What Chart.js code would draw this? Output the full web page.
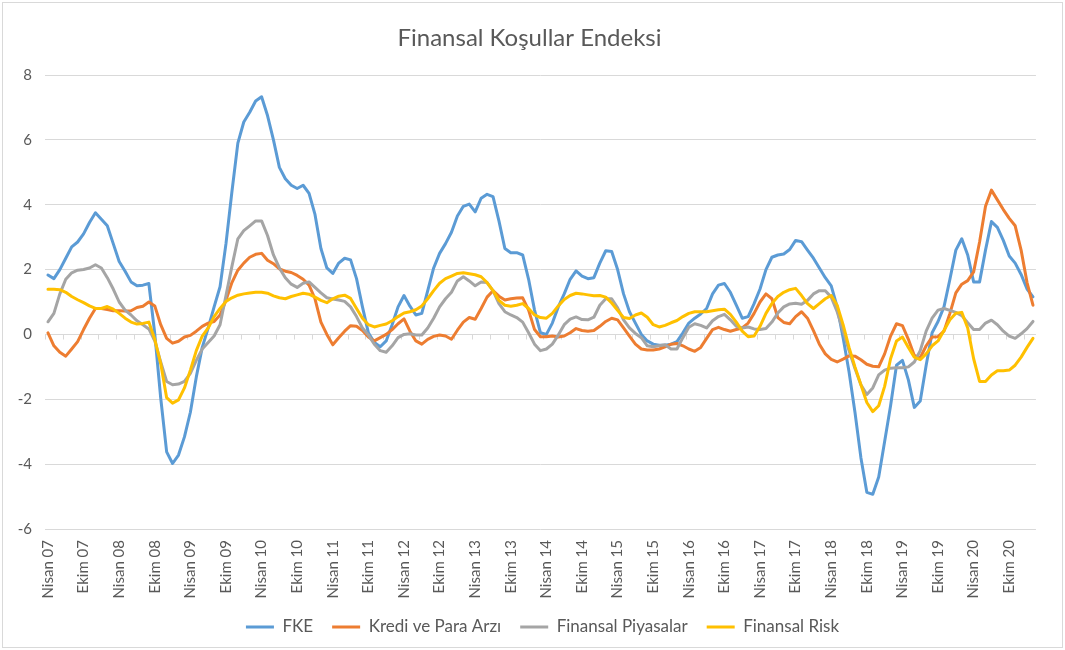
<!DOCTYPE html>
<html><head><meta charset="utf-8">
<script src="https://cdn.jsdelivr.net/npm/chart.js@4.4.1/dist/chart.umd.min.js"></script>
<style>
html,body{margin:0;padding:0;background:#fff;}
#wrap{position:absolute;left:2px;top:2px;width:1059px;height:644px;border:1px solid #d9d9d9;background:#fff;}
canvas{display:block;}
</style></head><body>
<div id="wrap"><canvas id="c" width="1059" height="644"></canvas></div>
<script>
const monthNames = ["Ocak","Şubat","Mart","Nisan","Mayıs","Haziran","Temmuz","Ağustos","Eylül","Ekim","Kasım","Aralık"];
const startYear = 2007, startMonth = 3, monthCount = 167;
const categories = [];
for (let i = 0; i < monthCount; i++) {
  const m = (startMonth + i) % 12, y = startYear + Math.floor((startMonth + i) / 12);
  categories.push(monthNames[m] + " " + String(y % 100).padStart(2, "0"));
}
const yTicks = [8, 6, 4, 2, 0, -2, -4, -6];

const fke = [
1.83,1.72,2.0,2.35,2.7,2.85,3.1,3.45,3.75,3.55,
3.35,2.8,2.25,1.95,1.62,1.5,1.52,1.57,0.02,-1.96,
-3.62,-3.98,-3.72,-3.16,-2.4,-1.31,-0.4,0.2,0.85,1.47,
2.8,4.4,5.9,6.55,6.85,7.2,7.33,6.75,6.0,5.15,
4.8,4.6,4.5,4.6,4.35,3.7,2.65,2.05,1.88,2.2,
2.35,2.3,1.72,0.85,0.05,-0.25,-0.38,-0.2,0.3,0.85,
1.2,0.87,0.6,0.65,1.35,2.05,2.5,2.8,3.15,3.65,
3.95,4.02,3.78,4.2,4.32,4.25,3.5,2.65,2.52,2.52,
2.45,1.7,0.75,0.05,0.0,0.35,0.85,1.25,1.7,1.96,
1.8,1.72,1.75,2.2,2.58,2.56,2.0,1.25,0.7,0.35,
0.0,-0.2,-0.3,-0.33,-0.33,-0.3,-0.22,0.05,0.35,0.5,
0.63,0.8,1.25,1.52,1.57,1.3,0.9,0.5,0.55,0.95,
1.4,2.0,2.38,2.45,2.48,2.62,2.9,2.86,2.6,2.35,
2.05,1.75,1.5,0.85,-0.1,-1.15,-2.4,-3.8,-4.87,-4.93,
-4.4,-3.3,-2.2,-0.95,-0.8,-1.4,-2.25,-2.05,-0.95,0.05,
0.4,0.85,1.7,2.6,2.95,2.45,1.62,1.62,2.6,3.48,
3.3,2.9,2.42,2.2,1.85,1.4,1.16];

const krediParaArzi = [
0.05,-0.35,-0.55,-0.67,-0.45,-0.22,0.15,0.5,0.8,0.8,
0.77,0.73,0.73,0.72,0.73,0.83,0.87,1.0,0.88,0.3,
-0.12,-0.27,-0.21,-0.08,-0.03,0.1,0.25,0.35,0.4,0.6,
1.05,1.6,1.98,2.2,2.38,2.47,2.5,2.29,2.18,2.02,
1.95,1.91,1.82,1.7,1.52,1.1,0.38,0.0,-0.32,-0.1,
0.1,0.27,0.25,0.12,-0.08,-0.2,-0.1,0.0,0.15,0.33,
0.48,0.1,-0.2,-0.3,-0.15,-0.06,-0.02,-0.05,-0.15,0.13,
0.38,0.52,0.47,0.8,1.15,1.35,1.18,1.06,1.1,1.12,
1.13,0.75,0.15,-0.07,-0.07,-0.05,-0.08,-0.05,0.05,0.18,
0.12,0.1,0.12,0.25,0.4,0.5,0.45,0.2,-0.05,-0.3,
-0.45,-0.48,-0.48,-0.45,-0.38,-0.3,-0.28,-0.35,-0.45,-0.52,
-0.4,-0.12,0.15,0.22,0.15,0.1,0.15,0.2,0.35,0.65,
1.0,1.25,1.1,0.52,0.37,0.33,0.55,0.7,0.5,0.12,
-0.3,-0.6,-0.77,-0.85,-0.76,-0.66,-0.67,-0.78,-0.92,-0.98,
-1.0,-0.6,-0.05,0.33,0.27,-0.15,-0.65,-0.72,-0.35,-0.08,
-0.07,0.1,0.65,1.28,1.55,1.66,1.93,2.85,3.95,4.45,
4.15,3.85,3.58,3.35,2.6,1.6,0.9];

const finansalPiyasalar = [
0.39,0.65,1.25,1.7,1.9,1.98,2.0,2.05,2.15,2.05,
1.75,1.4,1.0,0.75,0.6,0.42,0.3,0.17,-0.2,-0.85,
-1.45,-1.55,-1.53,-1.45,-1.2,-0.8,-0.45,-0.25,-0.05,0.3,
1.2,2.1,2.95,3.2,3.35,3.5,3.5,3.05,2.45,2.05,
1.75,1.55,1.45,1.58,1.62,1.45,1.28,1.13,1.09,1.06,
1.02,0.85,0.55,0.2,-0.02,-0.3,-0.5,-0.55,-0.35,-0.1,
0.0,0.02,-0.02,-0.02,0.2,0.5,0.85,1.1,1.3,1.65,
1.78,1.65,1.5,1.62,1.6,1.35,0.95,0.7,0.6,0.52,
0.38,0.05,-0.3,-0.5,-0.45,-0.3,-0.02,0.3,0.47,0.54,
0.46,0.45,0.53,0.9,1.1,1.1,0.82,0.45,0.2,0.03,
-0.1,-0.35,-0.38,-0.35,-0.32,-0.45,-0.45,-0.1,0.22,0.33,
0.28,0.2,0.42,0.55,0.62,0.45,0.25,0.2,0.23,0.17,
0.15,0.18,0.38,0.66,0.85,0.94,0.96,0.93,1.05,1.25,
1.35,1.35,1.15,0.7,0.1,-0.5,-1.05,-1.55,-1.85,-1.65,
-1.25,-1.1,-1.04,-1.03,-1.03,-1.0,-0.85,-0.5,0.1,0.5,
0.75,0.8,0.74,0.68,0.58,0.36,0.15,0.15,0.35,0.44,
0.3,0.1,-0.05,-0.12,0.02,0.18,0.4];

const finansalRisk = [
1.39,1.39,1.38,1.3,1.17,1.07,0.98,0.88,0.8,0.8,
0.86,0.78,0.65,0.5,0.38,0.32,0.34,0.38,-0.15,-0.9,
-1.95,-2.12,-2.02,-1.65,-1.1,-0.5,-0.05,0.2,0.55,0.8,
1.02,1.13,1.21,1.25,1.28,1.3,1.3,1.27,1.19,1.13,
1.1,1.17,1.22,1.27,1.24,1.15,1.05,0.98,1.1,1.18,
1.21,1.11,0.8,0.5,0.3,0.23,0.28,0.32,0.42,0.55,
0.66,0.7,0.76,0.88,1.1,1.35,1.58,1.72,1.8,1.88,
1.9,1.87,1.84,1.78,1.6,1.35,1.05,0.9,0.87,0.9,
0.95,0.8,0.6,0.52,0.5,0.65,0.88,1.08,1.2,1.27,
1.25,1.22,1.19,1.2,1.15,0.97,0.74,0.52,0.49,0.6,
0.66,0.53,0.3,0.23,0.28,0.36,0.43,0.55,0.65,0.7,
0.7,0.7,0.73,0.76,0.78,0.62,0.38,0.1,-0.07,-0.05,
0.25,0.65,0.95,1.17,1.3,1.38,1.42,1.2,0.95,0.8,
0.95,1.1,1.2,0.9,0.3,-0.4,-1.0,-1.55,-2.1,-2.38,
-2.2,-1.6,-0.75,-0.2,-0.08,-0.4,-0.7,-0.78,-0.6,-0.35,
-0.2,0.12,0.45,0.65,0.68,0.2,-0.75,-1.45,-1.45,-1.25,
-1.12,-1.12,-1.1,-0.95,-0.7,-0.4,-0.12];

const seriesNames = ["FKE", "Kredi ve Para Arzı", "Finansal Piyasalar", "Finansal Risk"];
const seriesColors = ["#5B9BD5", "#ED7D31", "#A5A5A5", "#FFC000"];
const seriesData = [fke, krediParaArzi, finansalPiyasalar, finansalRisk];

const FONT = "Lato, 'Liberation Sans', sans-serif";
const TXT = "#595959";
const GRID = "#d9d9d9";

const zeroTicks = {
  id: "zeroTicks",
  beforeDatasetsDraw(chart) {
    const xs = chart.scales.x, ys = chart.scales.y, ctx = chart.ctx;
    const y0 = Math.round(ys.getPixelForValue(0)) + 0.5;
    const step = (xs.right - xs.left) / categories.length;
    ctx.save();
    ctx.strokeStyle = GRID; ctx.lineWidth = 1;
    ctx.beginPath();
    for (let i = 0; i <= categories.length; i += 3) {
      const px = Math.round(xs.getPixelForValue(Math.min(i, categories.length - 1)) + (i < categories.length ? -step / 2 : step / 2)) + 0.5;
      ctx.moveTo(px, y0); ctx.lineTo(px, y0 + 5);
    }
    ctx.stroke();
    ctx.restore();
  }
};

const legendShift = {
  id: "legendShift",
  afterLayout(chart) {
    if (chart.legend) { chart.legend.left += 13; chart.legend.right += 13; }
  }
};

new Chart(document.getElementById("c"), {
  type: "line",
  data: {
    labels: categories,
    datasets: seriesData.map((d, k) => ({
      label: seriesNames[k],
      data: d,
      borderColor: seriesColors[k],
      backgroundColor: seriesColors[k],
      borderWidth: 3,
      pointRadius: 0,
      pointHoverRadius: 0,
      tension: 0,
      fill: false,
      order: seriesData.length - k,
      borderJoinStyle: "round",
      borderCapStyle: "round"
    }))
  },
  options: {
    responsive: false,
    animation: false,
    devicePixelRatio: 1,
    layout: { padding: { left: 0, right: 6, top: 0, bottom: 1.5 } },
    plugins: {
      tooltip: { enabled: false },
      title: {
        display: true,
        text: "Finansal Koşullar Endeksi",
        color: TXT,
        font: { family: FONT, size: 24, weight: "normal" },
        padding: { top: 20.6, bottom: 22.6 }
      },
      legend: {
        position: "bottom",
        labels: {
          color: TXT,
          font: { family: FONT, size: 17 },
          usePointStyle: true,
          pointStyle: "line",
          pointStyleWidth: 28,
          padding: 19,
          sort: (a, b) => a.datasetIndex - b.datasetIndex
        }
      }
    },
    scales: {
      x: {
        type: "category",
        offset: true,
        grid: { display: false, drawTicks: false },
        border: { display: false },
        afterFit: (s) => { s.height = 70.5; },
        ticks: {
          autoSkip: false,
          minRotation: 90,
          maxRotation: 90,
          padding: 11,
          color: TXT,
          font: { family: FONT, size: 15 },
          callback: (v, i) => (i % 6 === 0 ? categories[i] : "")
        }
      },
      y: {
        min: -6, max: 8,
        afterFit: (s) => { s.width = 42; },
        afterBuildTicks: (s) => { s.ticks = yTicks.slice().reverse().map(v => ({ value: v })); },
        grid: { color: GRID, lineWidth: 1, drawTicks: false },
        border: { display: false },
        ticks: {
          padding: 13,
          color: TXT,
          font: { family: FONT, size: 15 }
        }
      }
    }
  },
  plugins: [zeroTicks, legendShift]
});
</script>
</body></html>
